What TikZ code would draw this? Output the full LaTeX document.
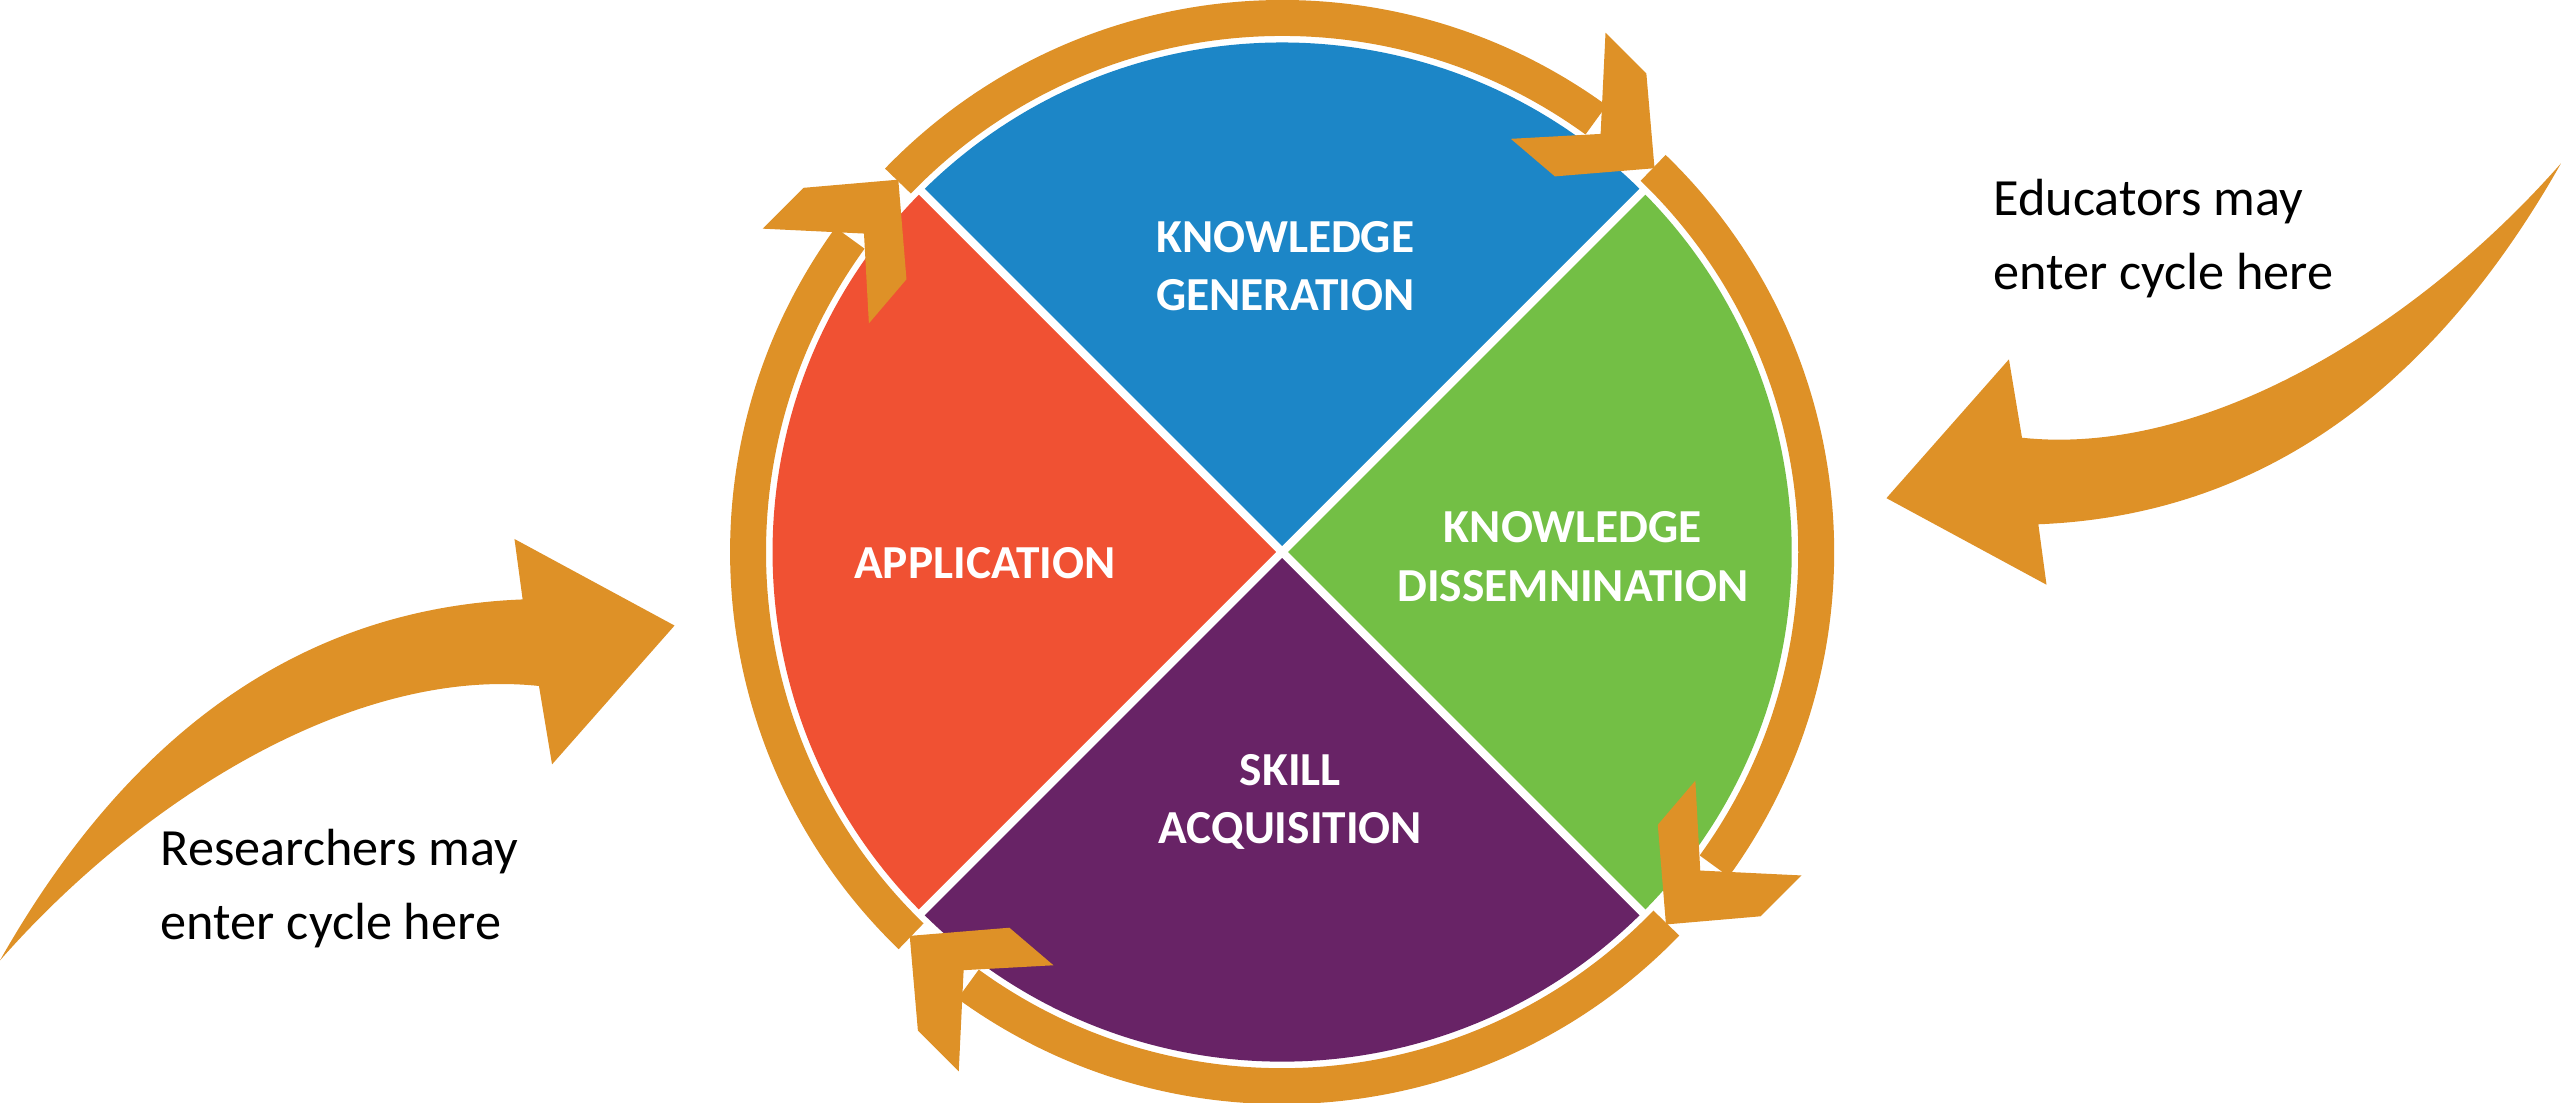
\documentclass[tikz,border=0pt]{standalone}
\usepackage{fontspec}
\setmainfont{Carlito}
\definecolor{kblue}{HTML}{1C86C7}
\definecolor{kgreen}{HTML}{73BF45}
\definecolor{kpurple}{HTML}{682366}
\definecolor{kred}{HTML}{F05133}
\definecolor{korange}{HTML}{DE9127}
\begin{document}
\begin{tikzpicture}[x=1pt,y=1pt,
  lbl/.style={text=white,font=\fontsize{29}{36}\selectfont\bfseries,align=center},
  note/.style={text=black,font=\fontsize{32}{45}\selectfont,align=left,anchor=west}]
\useasboundingbox (-785,-337) rectangle (783,338);
% sectors
\fill[kblue] (0,0) -- (45:312) arc[start angle=45,end angle=135,radius=312] -- cycle;
\fill[kgreen] (0,0) -- (-45:312) arc[start angle=-45,end angle=45,radius=312] -- cycle;
\fill[kpurple] (0,0) -- (-135:312) arc[start angle=-135,end angle=-45,radius=312] -- cycle;
\fill[kred] (0,0) -- (135:312) arc[start angle=135,end angle=225,radius=312] -- cycle;
\draw[white,line width=5] (135:314) -- (-45:314);
\draw[white,line width=5] (45:314) -- (225:314);
% ring arrows
\foreach \r in {0,-90,-180,-270}{
 \begin{scope}[rotate=\r]
  \fill[korange] (136:338) arc[start angle=136,end angle=54,radius=338] -- (54:316) arc[start angle=54,end angle=136,radius=316] -- cycle;
  \fill[korange] (198,318) -- (223,293) -- (228,235) -- (167,230) -- (140,253) -- (195,256) -- cycle;
 \end{scope}}
% big arrows
\fill[korange] (783,238) .. controls (695,138) and (565,58) .. (453,70) -- (445,118) -- (370,33) -- (468,-20) -- (463,17) .. controls (615,23) and (715,118) .. (783,238) -- cycle;
\begin{scope}[rotate around={180:(-1,-6)}]
\fill[korange] (783,238) .. controls (695,138) and (565,58) .. (453,70) -- (445,118) -- (370,33) -- (468,-20) -- (463,17) .. controls (615,23) and (715,118) .. (783,238) -- cycle;
\end{scope}
% labels
\node[lbl] (kg) at (2,175) {KNOWLEDGE\\GENERATION};
\node[lbl] (kd) at (178,-3) {KNOWLEDGE\\DISSEMNINATION};
\node[lbl] (ap) at (-182,-7) {APPLICATION};
\node[lbl] (sa) at (5,-153) {SKILL\\ACQUISITION};
\node[note] (ed) at (432,192) {Educators may\\enter cycle here};
\node[note] (re) at (-690,-206) {Researchers may\\enter cycle here};
\end{tikzpicture}
\end{document}
